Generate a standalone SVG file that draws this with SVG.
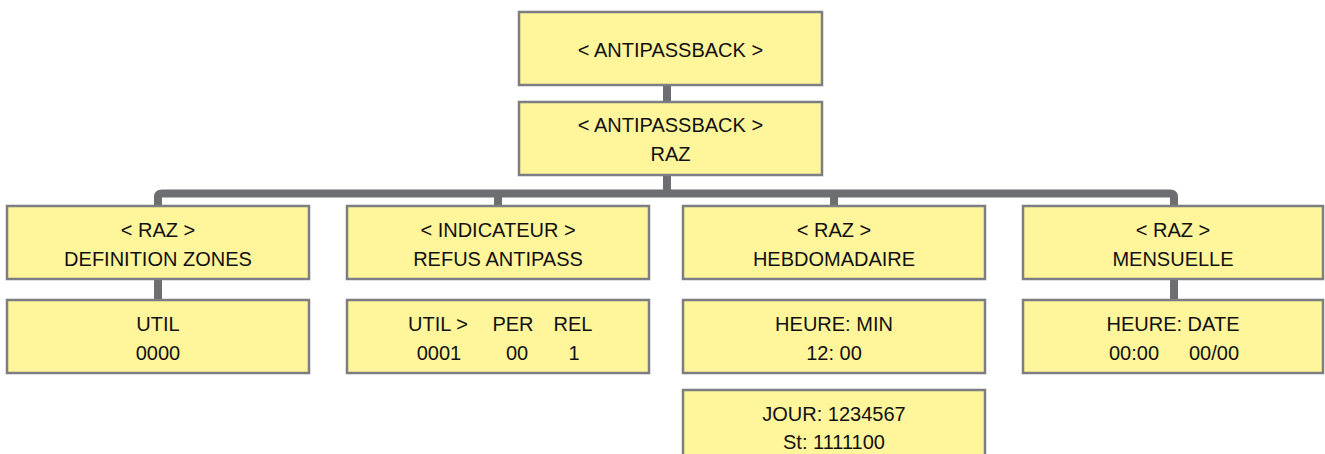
<svg xmlns="http://www.w3.org/2000/svg" width="1325" height="454" viewBox="0 0 1325 454">
<style>
.box{fill:#fff59b;stroke:#7d7e81;stroke-width:2.5}
.t{font-family:"Liberation Sans",Arial,sans-serif;font-size:20px;fill:#111;text-anchor:middle}
.c{fill:none;stroke:#6d6e71;stroke-width:8}
</style>
<rect width="1325" height="454" fill="#fff"/>
<g id="connectors">
<path class="c" d="M667,85 V102"/>
<path class="c" d="M667,175 V193"/>
<path class="c" d="M158,207 V197 Q158,193.5 162,193.5 H1170 Q1174,193.5 1174,197 V207"/>
<path class="c" d="M498,193 V207"/>
<path class="c" d="M834,193 V207"/>
<path class="c" d="M158,279 V300"/>
<path class="c" d="M1174,279 V300"/>
</g>
<g id="n-antipassback">
<rect class="box" x="519" y="12" width="303" height="73"/>
<text class="t" x="670.5" y="57">&lt; ANTIPASSBACK &gt;</text>
</g>
<g id="n-antipassback-raz">
<rect class="box" x="519" y="102" width="303" height="73"/>
<text class="t" x="670.5" y="132">&lt; ANTIPASSBACK &gt;</text>
<text class="t" x="670.5" y="161">RAZ</text>
</g>
<g id="n-raz-zones">
<rect class="box" x="7" y="206" width="302" height="73"/>
<text class="t" x="158" y="237">&lt; RAZ &gt;</text>
<text class="t" x="158" y="266">DEFINITION ZONES</text>
</g>
<g id="n-util">
<rect class="box" x="7" y="300" width="302" height="73"/>
<text class="t" x="158" y="331">UTIL</text>
<text class="t" x="158" y="360">0000</text>
</g>
<g id="n-indicateur">
<rect class="box" x="347" y="206" width="302" height="73"/>
<text class="t" x="498" y="237">&lt; INDICATEUR &gt;</text>
<text class="t" x="498" y="266">REFUS ANTIPASS</text>
</g>
<g id="n-util-per-rel">
<rect class="box" x="347" y="300" width="302" height="73"/>
<text class="t" x="438" y="331">UTIL &gt;</text>
<text class="t" x="513" y="331">PER</text>
<text class="t" x="573" y="331">REL</text>
<text class="t" x="439" y="360">0001</text>
<text class="t" x="517" y="360">00</text>
<text class="t" x="574" y="360">1</text>
</g>
<g id="n-hebdo">
<rect class="box" x="683" y="206" width="302" height="73"/>
<text class="t" x="834" y="237">&lt; RAZ &gt;</text>
<text class="t" x="834" y="266">HEBDOMADAIRE</text>
</g>
<g id="n-heure-min">
<rect class="box" x="683" y="300" width="302" height="73"/>
<text class="t" x="834" y="331">HEURE: MIN</text>
<text class="t" x="834" y="360">12: 00</text>
</g>
<g id="n-jour">
<rect class="box" x="683" y="390" width="302" height="73"/>
<text class="t" x="834" y="421">JOUR: 1234567</text>
<text class="t" x="834" y="449">St: 1111100</text>
</g>
<g id="n-mensuelle">
<rect class="box" x="1023" y="206" width="300" height="73"/>
<text class="t" x="1173" y="237">&lt; RAZ &gt;</text>
<text class="t" x="1173" y="266">MENSUELLE</text>
</g>
<g id="n-heure-date">
<rect class="box" x="1023" y="300" width="300" height="73"/>
<text class="t" x="1173" y="331">HEURE: DATE</text>
<text class="t" x="1134" y="360">00:00</text>
<text class="t" x="1214" y="360">00/00</text>
</g>
</svg>
